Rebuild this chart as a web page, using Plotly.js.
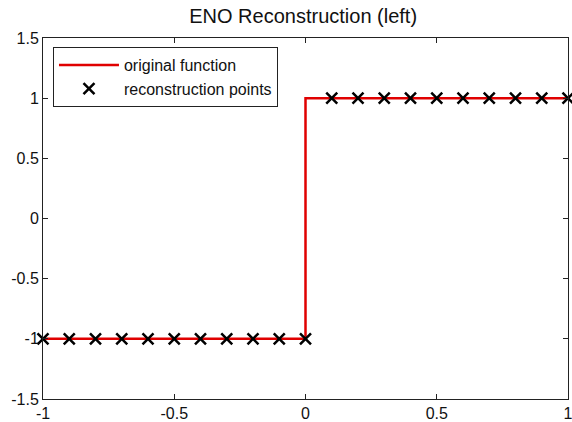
<!DOCTYPE html>
<html>
<head>
<meta charset="utf-8">
<script src="https://cdn.plot.ly/plotly-3.0.1.min.js"></script>
<style>html,body{margin:0;padding:0;background:#fff;}#chart{width:572px;height:422px;}</style>
</head>
<body>
<div id="chart"></div>
<script>
const lineX = [-1, 0, 0, 1];
const lineY = [-1, -1, 1, 1];
const pointsX = [-1, -0.9, -0.8, -0.7, -0.6, -0.5, -0.4, -0.3, -0.2, -0.1, 0, 0.1, 0.2, 0.3, 0.4, 0.5, 0.6, 0.7, 0.8, 0.9, 1];
const pointsY = [-1, -1, -1, -1, -1, -1, -1, -1, -1, -1, -1, 1, 1, 1, 1, 1, 1, 1, 1, 1, 1];
const xTicks = [-1, -0.5, 0, 0.5, 1];
const yTicks = [-1.5, -1, -0.5, 0, 0.5, 1, 1.5];

const FONT = 'Liberation Sans, Arial, sans-serif';
const traces = [
  {x: lineX, y: lineY, mode: 'lines', name: 'original function',
   line: {color: '#e00000', width: 2.5}},
  {x: pointsX, y: pointsY, mode: 'markers', name: 'reconstruction points',
   marker: {symbol: 'x-thin', size: 11, color: '#000', line: {color: '#000', width: 2.5}},
   cliponaxis: false}
];
const axisCommon = {
  showline: true, linecolor: '#222', linewidth: 1, mirror: 'ticks',
  ticks: 'inside', ticklen: 5, tickcolor: '#222', showgrid: false, zeroline: false,
  ticklabeloverflow: 'allow',
  tickfont: {family: FONT, size: 16, color: '#111'}
};
const layout = {
  width: 572, height: 422,
  margin: {l: 43, r: 4, t: 38, b: 23},
  paper_bgcolor: '#fff', plot_bgcolor: '#fff',
  title: {text: 'ENO Reconstruction (left)', x: 0.53, xanchor: 'center', y: 0.962, yanchor: 'middle',
          font: {family: FONT, size: 20, color: '#111'}},
  xaxis: Object.assign({}, axisCommon, {range: [-1, 1], tickvals: xTicks, ticktext: xTicks.map(String)}),
  yaxis: Object.assign({}, axisCommon, {range: [-1.5, 1.5], tickvals: yTicks, ticktext: yTicks.map(String)}),
  showlegend: true,
  legend: {x: 0.019, y: 0.975, xanchor: 'left', yanchor: 'top', bgcolor: '#fff',
           bordercolor: '#222', borderwidth: 1, itemwidth: 60,
           font: {family: FONT, size: 16, color: '#111'},
           tracegroupgap: 0}
};
Plotly.newPlot('chart', traces, layout, {displayModeBar: false, staticPlot: true});
</script>
</body>
</html>
